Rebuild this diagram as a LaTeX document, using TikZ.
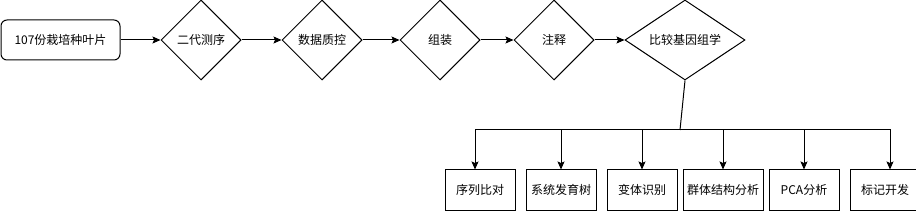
\documentclass[tikz,border=0pt]{standalone}
\usepackage{fontspec}
\newfontfamily\cjk{Noto Sans CJK SC}
\usepackage{tikz}
\usetikzlibrary{shapes.geometric, arrows.meta, positioning}

\begin{document}
\begin{tikzpicture}[
    x=1pt, y=-1pt,
    line width=1pt,
    font=\cjk\fontsize{12}{14}\selectfont,
    start/.style={rectangle, draw, rounded corners=6pt, minimum width=119pt, minimum height=40pt, align=center, inner sep=0pt},
    stage/.style={diamond, draw, aspect=1, minimum width=80pt, minimum height=80pt, inner sep=0pt},
    bigstage/.style={stage, aspect=1.5, minimum width=120pt},
    task/.style={rectangle, draw, minimum width=70pt, minimum height=40pt, inner sep=0pt},
    arrow/.style={-{Stealth[length=8pt, width=7pt, inset=1.5pt]}},
]
    \useasboundingbox (0,0) rectangle (916,211);

    % Nodes
    \node[start] (leaf) at (60.5,40) {107份栽培种叶片};
    \node[stage, right=40pt of leaf] (seq) {二代测序};
    \node[stage, right=40pt of seq] (qc) {数据质控};
    \node[stage, right=37pt of qc] (asm) {组装};
    \node[stage, right=33pt of asm] (anno) {注释};
    \node[bigstage, right=30pt of anno] (cmp) {比较基因组学};

    % Analysis boxes
    \node[task] (align) at (480,190) {序列比对};
    \node[task, right=10pt of align] (tree) {系统发育树};
    \node[task, right=10pt of tree] (var) {变体识别};
    \node[task, right=5pt of var, minimum width=80pt] (pop) {群体结构分析};
    \node[task, right=5pt of pop] (pca) {PCA分析};
    \node[task, right=10pt of pca] (mark) {标记开发};
    \coordinate (split) at (680,130);

    % Arrows
    \draw[arrow] (leaf) -- (seq);
    \draw[arrow] (seq) -- (qc);
    \draw[arrow] (qc) -- (asm);
    \draw[arrow] (asm) -- (anno);
    \draw[arrow] (anno) -- (cmp);
    \draw (cmp.south) -- (split);
    \draw[arrow] (split) -| ([xshift=-5pt]align.north);
    \draw[arrow] (split) -| (tree.north);
    \draw[arrow] (split) -| (var.north);
    \draw[arrow] (split) -| (pop.north);
    \draw[arrow] (split) -| (pca.north);
    \draw[arrow] (split) -| ([xshift=5pt]mark.north);
\end{tikzpicture}
\end{document}
